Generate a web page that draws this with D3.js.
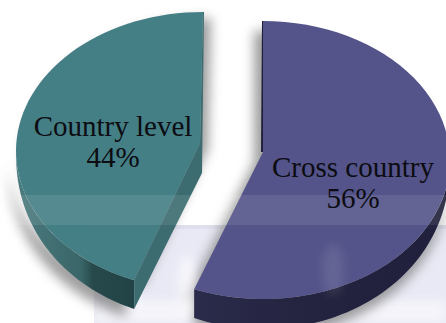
<!DOCTYPE html>
<html>
<head>
<meta charset="utf-8">
<script src="https://cdnjs.cloudflare.com/ajax/libs/d3/7.8.5/d3.min.js"></script>
<style>
html,body{margin:0;padding:0;background:#fff;overflow:hidden}
text{font-family:"Liberation Serif",serif;fill:#0c0c12}
</style>
</head>
<body>
<svg id="chart" width="446" height="323"></svg>
<script>
// Share of work by scope
const categories = ["Cross country", "Country level"];
const shares = [56, 44];
const topColors = ["#54548a", "#447f85"];
const cutColors = ["#1f1f3a", "#3d6c70"];

const W = 446, H = 323, depth = 30, apexLift = 8;
const rx = 187, ry = 139;
const centers = [{x: 263, y: 160}, {x: 203, y: 151}];
const labelPos = [{x: 353, y: 177, dy: 31}, {x: 113, y: 136, dy: 31}];

const svg = d3.select("#chart");
const defs = svg.append("defs");

defs.append("filter").attr("id", "soft").attr("x", "-20%").attr("y", "-20%")
  .attr("width", "140%").attr("height", "140%")
  .append("feGaussianBlur").attr("stdDeviation", 6);
defs.append("filter").attr("id", "softer").attr("x", "-50%").attr("y", "-50%")
  .attr("width", "200%").attr("height", "200%")
  .append("feGaussianBlur").attr("stdDeviation", 5);

function wallGradient(id, x1, x2, stops) {
  const g = defs.append("linearGradient").attr("id", id)
    .attr("gradientUnits", "userSpaceOnUse")
    .attr("x1", x1).attr("x2", x2).attr("y1", 0).attr("y2", 0);
  stops.forEach(([o, c]) => g.append("stop").attr("offset", o).attr("stop-color", c));
}
wallGradient("wall0", 198, 446, [[0, "#2a2a4a"], [0.5, "#23233f"], [1, "#20203c"]]);
wallGradient("wall1", 17, 134, [[0, "#4a7b7f"], [0.55, "#3a6568"], [0.65, "#27494b"], [1, "#214345"]]);

const pie = d3.pie().sort(null).value(d => d);
const arcs = pie(shares);

// Rim point of an elliptical slice at a pie angle (clockwise from twelve o'clock).
// The extrusion thins towards the sides of the ellipse, as seen in perspective.
const rim = (c, a) => [c.x + rx * Math.sin(a), c.y - ry * Math.cos(a)];
const rimLow = (c, a) => {
  const p = rim(c, a);
  return [p[0], p[1] + depth * Math.pow(Math.max(0, -Math.cos(a)), 0.6)];
};
const sweep = (a0, a1) => d3.range(0, 61).map(i => a0 + (a1 - a0) * i / 60);
const line = d3.line();

function topOutline(i) {
  const c = centers[i], a = arcs[i];
  return [[c.x + (i ? -3 : 0), c.y - apexLift], ...sweep(a.startAngle, a.endAngle).map(t => rim(c, t))];
}
function wallOutline(i) {
  const c = centers[i], a = arcs[i];
  const from = Math.max(a.startAngle, Math.PI / 2), to = Math.min(a.endAngle, 3 * Math.PI / 2);
  const pts = sweep(from, to);
  return [...pts.map(t => rim(c, t)), ...pts.slice().reverse().map(t => rimLow(c, t))];
}
function cutOutline(i) {
  const c = centers[i], a = arcs[i];
  if (i === 1) {
    const apex = [c.x - 3, c.y - apexLift];
    const tip = rim(c, a.startAngle), low = rimLow(c, a.startAngle);
    return [[c.x, c.y - ry], apex, tip, low, [apex[0] + 2, apex[1] + depth], [c.x + 1, c.y - ry]];
  }
  return [[c.x, c.y - ry], [c.x, c.y - apexLift], [c.x - 2, c.y - apexLift], [c.x - 1, c.y - ry]];
}

// Pale panel behind the lower part of the pie
svg.append("rect").attr("x", 94).attr("y", 225).attr("width", W - 94).attr("height", H - 225)
  .attr("fill", "#e9e9f5");
svg.append("rect").attr("x", 94).attr("y", 300).attr("width", W - 94).attr("height", H - 300)
  .attr("fill", "#fff").attr("opacity", 0.5).attr("filter", "url(#softer)");

// Soft shadow cast behind the slices
const shadow = svg.append("g").attr("filter", "url(#soft)").attr("fill", "#707070").attr("opacity", 0.68);
shadow.append("path").attr("d", line(wallOutline(1)) + "Z").attr("transform", "translate(-8,8)");
shadow.append("path").attr("d", line(topOutline(1)) + "Z").attr("transform", "translate(8,6)");
shadow.append("path").attr("d", line(topOutline(0)) + "Z").attr("transform", "translate(-9,10)");
shadow.append("path").attr("d", line(wallOutline(0)) + "Z").attr("transform", "translate(0,8)");

// White patch in the gap, inside the panel
svg.append("ellipse").attr("cx", 187).attr("cy", 285).attr("rx", 9).attr("ry", 30)
  .attr("fill", "#fff").attr("opacity", 0.6).attr("filter", "url(#softer)");

// Extruded walls, cut faces and top faces
arcs.forEach((a, i) => {
  const g = svg.append("g").attr("class", "slice").datum(categories[i]);
  g.append("path").attr("d", line(wallOutline(i)) + "Z").attr("fill", `url(#wall${i})`);
  g.append("path").attr("d", line(cutOutline(i)) + "Z").attr("fill", cutColors[i]);
  g.append("path").attr("d", line(topOutline(i)) + "Z").attr("fill", topColors[i]);
});

// Glossy bands laid across the lower part of the pie
svg.append("rect").attr("x", 12).attr("y", 195).attr("width", W - 12).attr("height", 30)
  .attr("fill", "#fff").attr("opacity", 0.09);
svg.append("rect").attr("x", 94).attr("y", 225).attr("width", W - 94).attr("height", 4)
  .attr("fill", "#66668a").attr("opacity", 0.07);
svg.append("ellipse").attr("cx", 333).attr("cy", 270).attr("rx", 11).attr("ry", 26)
  .attr("fill", "#fff").attr("opacity", 0.09).attr("filter", "url(#softer)");

// Category and percentage labels
categories.forEach((name, i) => {
  const p = labelPos[i];
  const label = svg.append("text").attr("text-anchor", "middle").attr("font-size", 29);
  label.append("tspan").attr("x", p.x).attr("y", p.y).text(name);
  label.append("tspan").attr("x", p.x).attr("y", p.y + p.dy).text(shares[i] + "%");
});
</script>
</body>
</html>
